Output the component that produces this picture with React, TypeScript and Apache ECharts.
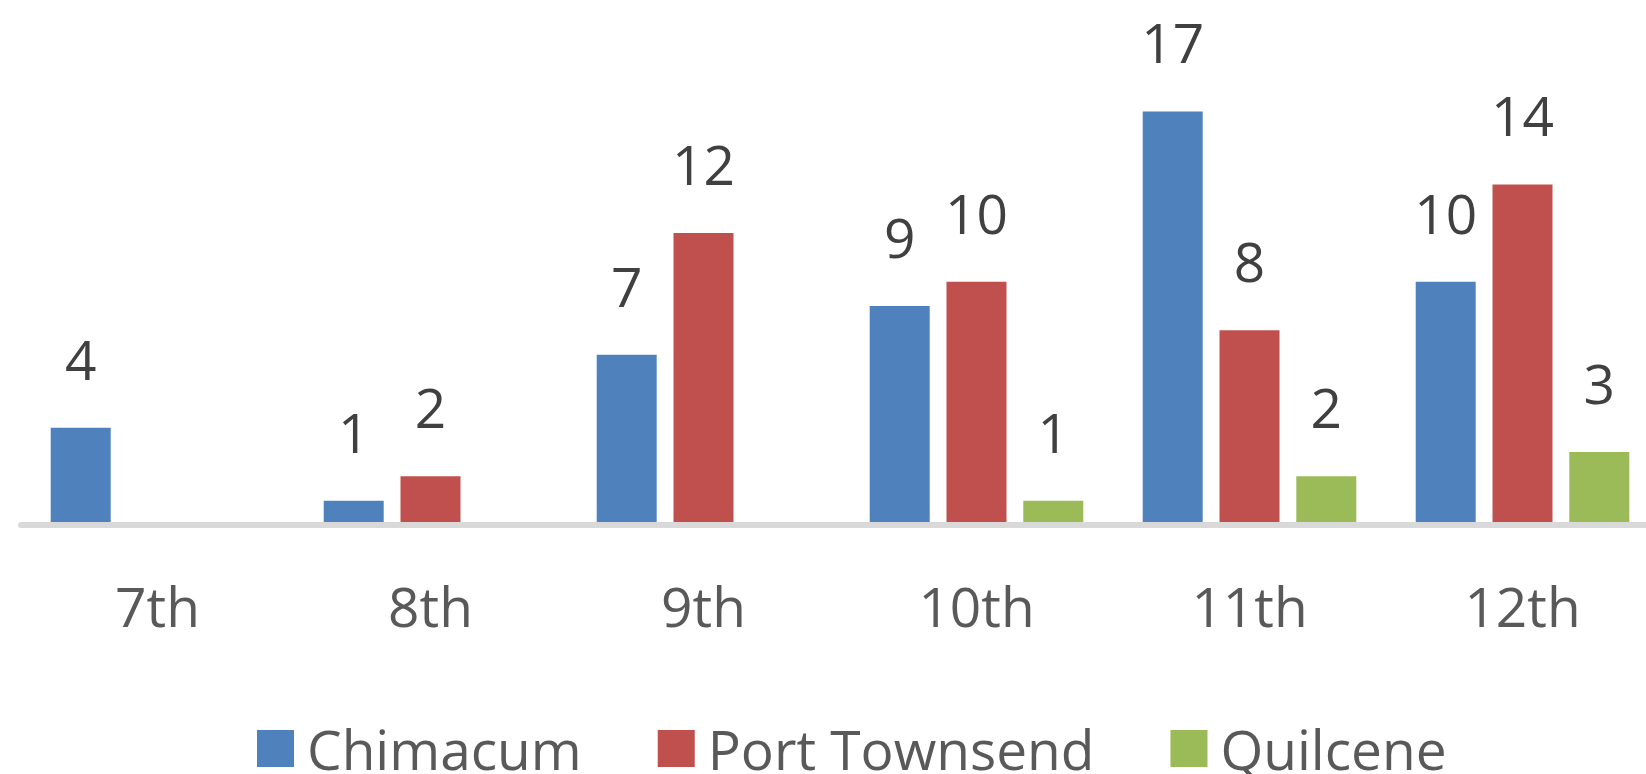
import React, { useEffect, useRef } from "react";
import * as echarts from "echarts";

const categories = ["7th", "8th", "9th", "10th", "11th", "12th"];
const chimacum = [4, 1, 7, 9, 17, 10];
const portTownsend = [null, 2, 12, 10, 8, 14];
const quilcene = [null, null, null, 1, 2, 3];
const seriesNames = ["Chimacum", "Port Townsend", "Quilcene"];
const seriesColors = ["#4F81BD", "#C0504D", "#9BBB59"];

const FONT = "'Open Sans', 'Noto Sans', sans-serif";

export default function App() {
  const ref = useRef<HTMLDivElement>(null);
  useEffect(() => {
    if (!ref.current) return;
    const chart = echarts.init(ref.current, null, { renderer: "svg" });
    const values = [chimacum, portTownsend, quilcene];
    chart.setOption({
      animation: false,
      backgroundColor: "#ffffff",
      textStyle: { fontFamily: FONT },
      grid: {
        left: 21,
        top: 38.4,
        width: 1638,
        height: 486.6,
        containLabel: false,
        outerBoundsMode: "none",
      },
      legend: {
        left: 252,
        top: 716,
        padding: 5,
        itemWidth: 37,
        itemHeight: 37,
        itemGap: 76,
        icon: "rect",
        data: seriesNames,
        textStyle: {
          fontFamily: FONT,
          fontSize: 55,
          lineHeight: 55,
          color: "#595959",
          padding: [0, 0, 0, 8],
        },
      },
      xAxis: {
        type: "category",
        data: categories,
        z: 10,
        axisLine: { show: true, lineStyle: { color: "#D9D9D9", width: 6 } },
        axisTick: { show: false },
        axisLabel: {
          margin: 53,
          fontFamily: FONT,
          fontSize: 55,
          lineHeight: 55,
          color: "#595959",
        },
      },
      yAxis: {
        type: "value",
        min: 0,
        max: 20,
        show: false,
        splitLine: { show: false },
      },
      series: seriesNames.map((name, i) => ({
        name,
        type: "bar",
        data: values[i],
        barWidth: 60,
        barGap: "28%",
        itemStyle: { color: seriesColors[i] },
        label: {
          show: true,
          position: "top",
          distance: 42,
          fontFamily: FONT,
          fontSize: 55,
          lineHeight: 55,
          color: "#404040",
        },
      })),
    });
    return () => chart.dispose();
  }, []);
  return (
    <div
      ref={ref}
      style={{ position: "fixed", left: 0, top: 0, width: 1646, height: 774 }}
    />
  );
}
